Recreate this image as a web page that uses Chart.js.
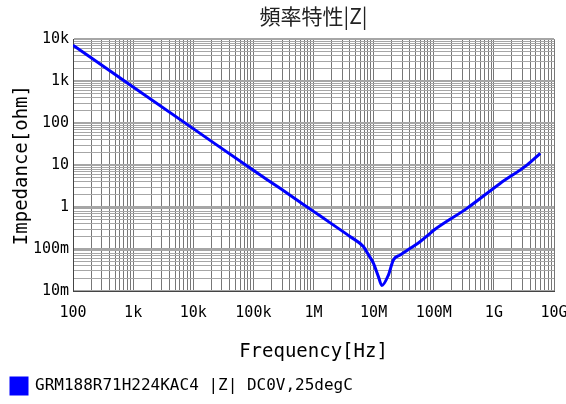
<!DOCTYPE html>
<html><head><meta charset="utf-8">
<script src="https://cdn.jsdelivr.net/npm/chart.js@4.4.1/dist/chart.umd.min.js"></script>
<style>html,body{margin:0;padding:0;background:#fff}#wrap{width:566px;height:404px}</style>
</head><body><div id="wrap"><canvas id="c" width="566" height="404"></canvas></div>
<script>
const frequencyHz = [100, 1e3, 1e4, 1e5, 2.78e5, 1e6, 1.9e6, 4.1e6, 6.8e6, 8.2e6, 9.9e6, 1.2e7, 1.37e7, 1.76e7, 2.13e7, 2.76e7, 4.05e7, 5.9e7, 8.7e7, 1.0e8, 3.56e8, 1.27e9, 3.54e9, 5.9e9];
const impedanceOhm = [7200, 730, 74, 7.5, 2.79, 0.79, 0.42, 0.196, 0.113, 0.073, 0.046, 0.022, 0.0135, 0.024, 0.055, 0.072, 0.104, 0.149, 0.237, 0.28, 0.93, 3.66, 10, 19];
const xTickDecades = [1e2, 1e3, 1e4, 1e5, 1e6, 1e7, 1e8, 1e9, 1e10];
const xTickLabels = ['100', '1k', '10k', '100k', '1M', '10M', '100M', '1G', '10G'];
const yTickDecades = [1e-2, 1e-1, 1, 1e1, 1e2, 1e3, 1e4];
const yTickLabels = ['10m', '100m', '1', '10', '100', '1k', '10k'];
const seriesLabel = 'GRM188R71H224KAC4 |Z| DC0V,25degC';
const chartTitle = '頻率特性|Z|';

function gridValues(decades) {
  const out = [];
  for (let i = 0; i < decades.length - 1; i++) {
    for (let k = 1; k <= 9; k++) out.push(k * decades[i]);
  }
  out.push(decades[decades.length - 1]);
  return out;
}
function decadeLabel(v, decades, labels) {
  for (let i = 0; i < decades.length; i++) {
    if (Math.abs(Math.log10(v) - Math.log10(decades[i])) < 1e-6) return labels[i];
  }
  return '';
}
const mono = 'DejaVu Sans Mono';
const points = frequencyHz.map((f, i) => ({x: f, y: impedanceOhm[i]}));

new Chart(document.getElementById('c'), {
  type: 'line',
  data: {datasets: [{
    label: seriesLabel, data: points, borderColor: '#0000ff', backgroundColor: '#0000ff',
    borderWidth: 3, pointRadius: 0, cubicInterpolationMode: 'monotone', fill: false
  }]},
  options: {
    responsive: false, animation: false,
    layout: {padding: {left: 0, right: 0, top: 0, bottom: 0}},
    plugins: {
      title: {display: true, fullSize: false, text: chartTitle, color: '#222',
        font: {family: 'Noto Sans CJK JP', size: 21, weight: 'normal'}, padding: {top: 3, bottom: 11}},
      legend: {display: true, position: 'bottom', align: 'start',
        labels: {boxWidth: 16, boxHeight: 16, padding: 11, color: '#000',
          font: {family: mono, size: 16}}},
      tooltip: {enabled: false}
    },
    scales: {
      x: {
        type: 'logarithmic', min: 100, max: 1e10,
        afterBuildTicks: s => { s.ticks = gridValues(xTickDecades).map(v => ({value: v})); },
        afterFit: s => { s.height = 76; s.paddingRight = 12; s.paddingLeft = 0; },
        ticks: {autoSkip: false, maxRotation: 0, minRotation: 0, padding: 13, color: '#000',
          font: {family: mono, size: 15},
          callback: v => decadeLabel(v, xTickDecades, xTickLabels)},
        grid: {color: '#777', lineWidth: 1, drawTicks: false},
        border: {color: '#444', width: 1},
        title: {display: true, text: 'Frequency[Hz]', color: '#000',
          font: {family: mono, size: 19}, padding: {top: 0, bottom: 4}}
      },
      y: {
        type: 'logarithmic', min: 0.01, max: 10000,
        afterBuildTicks: s => { s.ticks = gridValues(yTickDecades).map(v => ({value: v})); },
        afterFit: s => { s.width = 73; },
        ticks: {autoSkip: false, padding: 4, color: '#000',
          font: {family: mono, size: 15},
          callback: v => decadeLabel(v, yTickDecades, yTickLabels)},
        grid: {color: '#a6a6a6', lineWidth: ctx => (ctx.tick && decadeLabel(ctx.tick.value, yTickDecades, yTickLabels) !== '' ? 2 : 1), drawTicks: false},
        border: {color: '#444', width: 1},
        title: {display: true, text: 'Impedance[ohm]', color: '#000',
          font: {family: mono, size: 19}, padding: {top: 11, bottom: 0}}
      }
    }
  }
});
</script></body></html>
